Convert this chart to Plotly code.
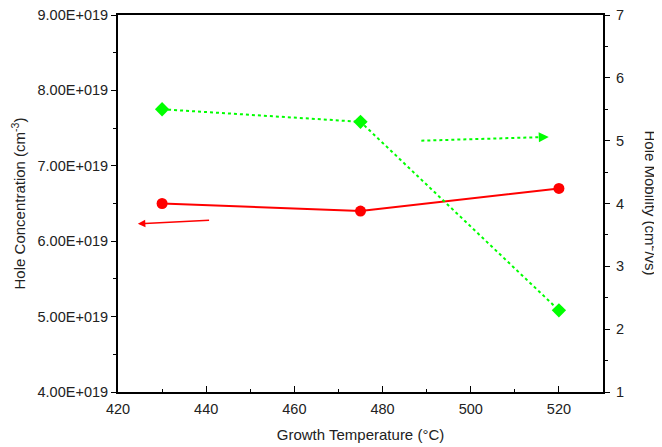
import plotly.graph_objects as go

temps = [430, 475, 520]
hole_conc = [6.5e19, 6.4e19, 6.7e19]
hole_mob = [5.5, 5.3, 2.3]

left_tickvals = [4e19, 5e19, 6e19, 7e19, 8e19, 9e19]
left_ticktext = ["4.00E+019", "5.00E+019", "6.00E+019", "7.00E+019", "8.00E+019", "9.00E+019"]
right_tickvals = [1, 2, 3, 4, 5, 6, 7]
x_tickvals = [420, 440, 460, 480, 500, 520]

FAM = "Arial, Liberation Sans, sans-serif"
font = dict(family=FAM, size=14.5, color="#222")

fig = go.Figure()
fig.add_trace(go.Scatter(
    x=temps, y=hole_conc, mode="lines+markers",
    line=dict(color="#ff0000", width=2),
    marker=dict(symbol="circle", size=11, color="#ff0000"),
    showlegend=False, yaxis="y"))
fig.add_trace(go.Scatter(
    x=temps, y=hole_mob, mode="lines+markers",
    line=dict(color="#00ff00", width=2, dash="dot"),
    marker=dict(symbol="diamond", size=11, color="#00ff00"),
    showlegend=False, yaxis="y2"))

# direction arrows
fig.add_annotation(x=424.5, y=6.23e19, ax=441, ay=6.28e19, xref="x", yref="y",
                   axref="x", ayref="y", showarrow=True, arrowhead=2, arrowsize=1,
                   arrowwidth=1.5, arrowcolor="#ff0000", text="")
fig.add_annotation(x=517.7, y=5.06, ax=515.5, ay=5.055, xref="x", yref="y2",
                   axref="x", ayref="y2", showarrow=True, arrowhead=2, arrowsize=1,
                   arrowwidth=2, arrowcolor="#00ff00", text="")
# dotted shaft of the green arrow
fig.add_trace(go.Scatter(x=[488.8, 515.5], y=[5.0, 5.055], mode="lines",
                         line=dict(color="#00ff00", width=2, dash="dot"),
                         showlegend=False, yaxis="y2", hoverinfo="skip"))

# right axis title rotated +90
fig.add_annotation(text="Hole Mobility (cm<sup>2</sup>/vs)", textangle=90,
                   xref="paper", yref="paper", x=1.101, y=0.5, showarrow=False,
                   xanchor="center", yanchor="middle",
                   font=dict(family=FAM, size=15, color="#222"))

fig.update_layout(
    width=654, height=439,
    margin=dict(l=110, r=59, t=7, b=55),
    plot_bgcolor="white", paper_bgcolor="white",
    font=font,
    xaxis=dict(range=[420, 530], tickvals=x_tickvals, ticks="inside", ticklen=6,
               tickwidth=1, tickcolor="black", automargin=False, ticklabelstandoff=3,
               ticklabeloverflow="allow",
               minor=dict(dtick=10, tick0=420, ticks="inside", ticklen=3, tickcolor="black"),
               showline=True, linecolor="black", linewidth=2, mirror=True,
               showgrid=False, zeroline=False,
               title=dict(text="Growth Temperature (°C)", font=dict(size=15), standoff=13)),
    yaxis=dict(range=[4e19, 9e19], tickvals=left_tickvals, ticktext=left_ticktext,
               ticks="outside", ticklen=5, tickcolor="black", automargin=False,
               ticklabeloverflow="allow",
               minor=dict(dtick=5e18, tick0=4e19, ticks="outside", ticklen=3, tickcolor="black"),
               showline=True, linecolor="black", linewidth=2,
               showgrid=False, zeroline=False,
               title=dict(text="Hole Concentration (cm<sup>-3</sup>)", font=dict(size=15), standoff=8)),
    yaxis2=dict(range=[1, 7], tickvals=right_tickvals, overlaying="y", side="right",
                ticks="outside", ticklen=5, tickcolor="black", automargin=False,
                ticklabelstandoff=3, ticklabeloverflow="allow",
                minor=dict(dtick=0.5, tick0=1, ticks="outside", ticklen=3, tickcolor="black"),
                showline=True, linecolor="black", linewidth=2,
                showgrid=False, zeroline=False),
)

fig.write_html("out.html")
